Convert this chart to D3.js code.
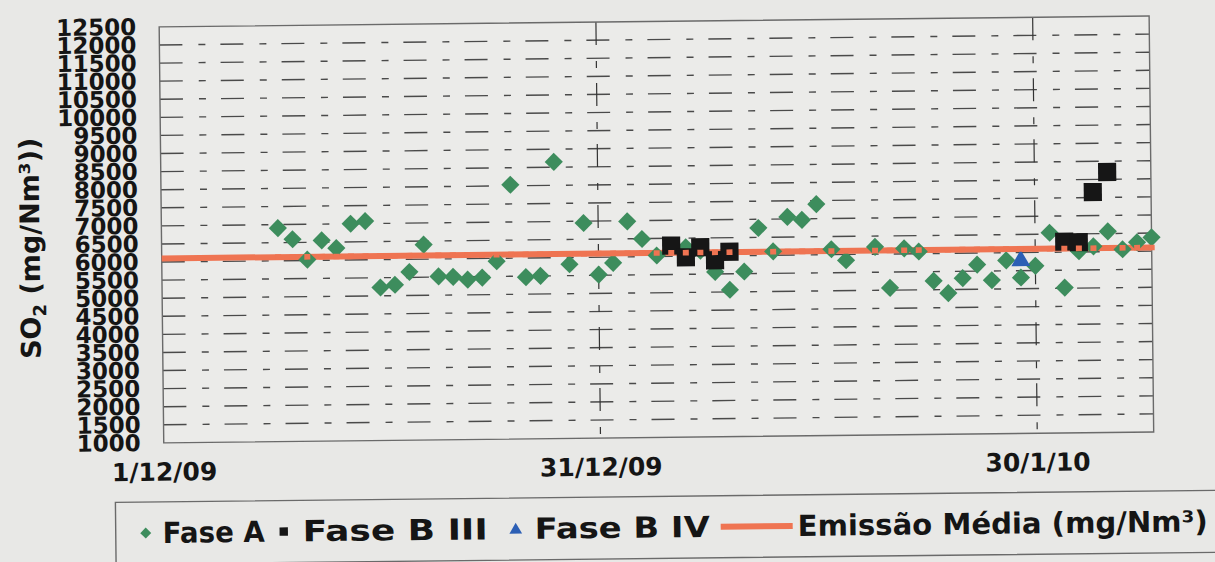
<!DOCTYPE html>
<html>
<head>
<meta charset="utf-8">
<script src="https://cdn.jsdelivr.net/npm/d3@7"></script>
<style>
  body { margin: 0; background: #e8e8e6; }
  svg { display: block; }
  text { font-family: "DejaVu Sans", Verdana, sans-serif; font-weight: bold; fill: #151515; }
</style>
</head>
<body>
<svg id="chart" width="1215" height="562"></svg>
<script>
// values
var faseADates = ["2009-12-09","2009-12-10","2009-12-11","2009-12-12","2009-12-13","2009-12-14","2009-12-15",
  "2009-12-16","2009-12-17","2009-12-18","2009-12-19","2009-12-20","2009-12-21","2009-12-22","2009-12-23",
  "2009-12-24","2009-12-25","2009-12-26","2009-12-27","2009-12-28","2009-12-29","2009-12-30","2009-12-31",
  "2010-01-01","2010-01-02","2010-01-03","2010-01-04","2010-01-06","2010-01-07","2010-01-08","2010-01-09",
  "2010-01-10","2010-01-11","2010-01-12","2010-01-13","2010-01-14","2010-01-15","2010-01-16","2010-01-17",
  "2010-01-19","2010-01-20","2010-01-21","2010-01-22","2010-01-23","2010-01-24","2010-01-25","2010-01-26",
  "2010-01-27","2010-01-28","2010-01-29","2010-01-30","2010-01-31","2010-02-01","2010-02-02","2010-02-03",
  "2010-02-04","2010-02-05","2010-02-06","2010-02-07"];
var faseAValues = [6900,6590,6020,6550,6330,7000,7070,
  5230,5300,5650,6400,5520,5500,5420,5470,
  5920,8030,5470,5500,8650,5815,6950,5520,
  5840,6980,6490,6030,6245,6150,5560,5060,
  5560,6760,6110,7060,6970,7400,6150,5840,
  6200,5064,6150,6060,5245,4900,5310,5680,
  5245,5790,5310,5630,6540,5020,6020,6150,
  6560,6060,6250,6380];

var faseB3Dates = ["2010-01-05","2010-01-06","2010-01-07","2010-01-08","2010-01-09",
  "2010-02-01","2010-02-02","2010-02-03","2010-02-04"];
var faseB3Values = [6300,5970,6245,5880,6110,6290,6270,7650,8200];

var faseB4Dates = ["2010-01-29"];
var faseB4Values = [5830];

var mediaDates = ["2009-12-01","2010-02-07"];
var mediaValues = [6100,6100];

var yTickValues = [1000,1500,2000,2500,3000,3500,4000,4500,5000,5500,6000,6500,
  7000,7500,8000,8500,9000,9500,10000,10500,11000,11500,12000,12500];
var xTickDates = ["2009-12-01","2009-12-31","2010-01-30"];
var xTickLabels = ["1/12/09","31/12/09","30/1/10"];

var legendLabels = ["Fase A","Fase B III","Fase B IV","Emissão Média (mg/Nm³)"];

var parse = d3.timeParse("%Y-%m-%d");

function toPoints(dates, values) {
  return dates.map(function(d, i) { return {date: parse(d), value: values[i]}; });
}

var faseA = toPoints(faseADates, faseAValues),
    faseB3 = toPoints(faseB3Dates, faseB3Values),
    faseB4 = toPoints(faseB4Dates, faseB4Values),
    media = toPoints(mediaDates, mediaValues);

// markers of the average series sit on every measured day
var markerDays = d3.sort(Array.from(new Set(faseADates.concat(faseB3Dates, faseB4Dates))));

var colGreen = "#3d8d5d", colBlack = "#161616", colBlue = "#2c5fb5", colOrange = "#ef7452";

var plot = {left: 162, right: 1152, top: 22, bottom: 438};

var svg = d3.select("#chart");
// the scan is slightly tilted
var root = svg.append("g").attr("transform", "rotate(-0.63,607,281)");

var x = d3.scaleTime()
  .domain([parse("2009-12-01"), parse("2010-02-07")])
  .range([plot.left, plot.right]);
var y = d3.scaleLinear()
  .domain([1000, 12500])
  .range([plot.bottom, plot.top]);

// plot area
root.append("rect")
  .attr("x", plot.left).attr("y", plot.top)
  .attr("width", plot.right - plot.left).attr("height", plot.bottom - plot.top)
  .attr("fill", "#ebebe9");

// horizontal gridlines
root.append("g").selectAll("line")
  .data(yTickValues.slice(1, -1))
  .enter().append("line")
  .attr("x1", plot.left).attr("x2", plot.right)
  .attr("y1", function(d) { return y(d); })
  .attr("y2", function(d) { return y(d); })
  .attr("stroke", "#4a4a4a")
  .attr("stroke-width", 1.4)
  .attr("stroke-dasharray", "23,16,7,15");

// vertical gridlines
root.append("g").selectAll("line")
  .data(xTickDates.slice(1))
  .enter().append("line")
  .attr("x1", function(d) { return x(parse(d)); })
  .attr("x2", function(d) { return x(parse(d)); })
  .attr("y1", plot.top).attr("y2", plot.bottom)
  .attr("stroke", "#333")
  .attr("stroke-width", 1.2)
  .attr("stroke-dasharray", "23,16,7,15");

root.append("rect")
  .attr("x", plot.left).attr("y", plot.top)
  .attr("width", plot.right - plot.left).attr("height", plot.bottom - plot.top)
  .attr("fill", "none")
  .attr("stroke", "#6a6a6a")
  .attr("stroke-width", 1.4);

// axes
var yAxis = d3.axisLeft(y).tickValues(yTickValues).tickFormat(d3.format("d"))
  .tickSize(0).tickPadding(23);
var gy = root.append("g").attr("transform", "translate(" + plot.left + ",0)").call(yAxis);
gy.select(".domain").remove();
gy.selectAll("text").attr("font-size", 23).attr("fill", "#151515");

var xAxis = d3.axisBottom(x)
  .tickValues(xTickDates.map(parse))
  .tickFormat(function(d, i) { return xTickLabels[i]; })
  .tickSize(0).tickPadding(20);
var gx = root.append("g").attr("transform", "translate(0," + plot.bottom + ")").call(xAxis);
gx.select(".domain").remove();
gx.selectAll("text").attr("font-size", 25).attr("fill", "#151515");

// y title
var title = root.append("text")
  .attr("transform", "translate(40,242) rotate(-90)")
  .attr("text-anchor", "middle")
  .attr("font-size", 27);
title.append("tspan").text("SO");
title.append("tspan").attr("font-size", 18).attr("dy", 6).text("2");
title.append("tspan").attr("dy", -6).text(" (mg/Nm³))");

// average line
var line = d3.line()
  .x(function(d) { return x(d.date); })
  .y(function(d) { return y(d.value); });
root.append("path")
  .datum(media)
  .attr("d", line)
  .attr("fill", "none")
  .attr("stroke", colOrange)
  .attr("stroke-width", 6);

var diamond = d3.symbol(d3.symbolSquare, 165),
    square = d3.symbol(d3.symbolSquare, 330),
    triangle = d3.symbol(d3.symbolTriangle, 155);

root.append("g").selectAll("path")
  .data(faseA)
  .enter().append("path")
  .attr("d", diamond)
  .attr("transform", function(d) { return "translate(" + x(d.date) + "," + y(d.value) + ") rotate(45)"; })
  .attr("fill", colGreen);

root.append("g").selectAll("path")
  .data(faseB3)
  .enter().append("path")
  .attr("d", square)
  .attr("transform", function(d) { return "translate(" + x(d.date) + "," + y(d.value) + ")"; })
  .attr("fill", colBlack);

root.append("g").selectAll("path")
  .data(faseB4)
  .enter().append("path")
  .attr("d", triangle)
  .attr("transform", function(d) { return "translate(" + x(d.date) + "," + (y(d.value) + 2) + ")"; })
  .attr("fill", colBlue);

// small markers of the average series (same colour as the line, only show over other marks)
root.append("g").selectAll("rect")
  .data(markerDays)
  .enter().append("rect")
  .attr("x", function(d) { return x(parse(d)) - 3; })
  .attr("y", y(mediaValues[0]) - 2.8)
  .attr("width", 6).attr("height", 5.6)
  .attr("fill", colOrange);

// legend
var leg = root.append("g");
leg.append("rect")
  .attr("x", 113).attr("y", 497)
  .attr("width", 1115).attr("height", 62)
  .attr("fill", "none")
  .attr("stroke", "#6a6a6a")
  .attr("stroke-width", 1.4);

var legY = 528;
leg.append("path").attr("d", d3.symbol(d3.symbolSquare, 60))
  .attr("transform", "translate(143," + legY + ") rotate(45)").attr("fill", colGreen);
leg.append("path").attr("d", d3.symbol(d3.symbolSquare, 70))
  .attr("transform", "translate(281," + legY + ")").attr("fill", colBlack);
leg.append("path").attr("d", d3.symbol(d3.symbolTriangle, 70))
  .attr("transform", "translate(513," + (legY + 1) + ")").attr("fill", colBlue);
leg.append("line")
  .attr("x1", 718).attr("x2", 790).attr("y1", legY).attr("y2", legY)
  .attr("stroke", colOrange).attr("stroke-width", 6);

var legTextX = [160, 300, 532, 795];
var legTextLen = [102, 185, 175, 410];
leg.selectAll("text.lt")
  .data(legendLabels)
  .enter().append("text")
  .attr("class", "lt")
  .attr("x", function(d, i) { return legTextX[i]; })
  .attr("y", legY + 10)
  .attr("font-size", 29)
  .attr("textLength", function(d, i) { return legTextLen[i]; })
  .attr("lengthAdjust", "spacingAndGlyphs")
  .text(function(d) { return d; });
</script>
</body>
</html>
